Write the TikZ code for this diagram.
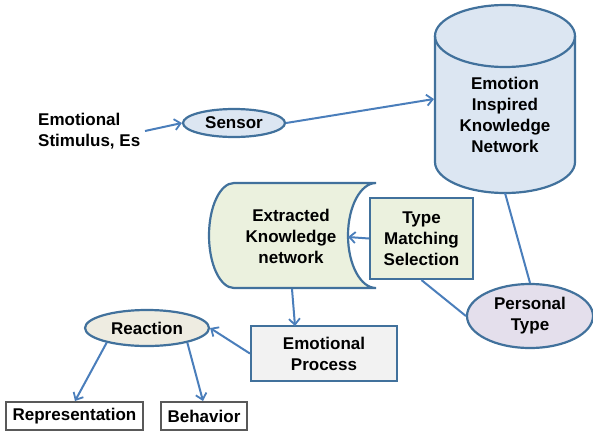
\documentclass[tikz,border=0pt]{standalone}
\usepackage{fontspec}
\setmainfont{Liberation Sans}
\usetikzlibrary{shapes.geometric,arrows.meta}
\definecolor{bdr}{HTML}{41719C}
\definecolor{blfill}{HTML}{DCE6F2}
\definecolor{grfill}{HTML}{EBF1DE}
\definecolor{lvfill}{HTML}{E4DFEC}
\definecolor{gyfill}{HTML}{F2F2F2}
\definecolor{bgfill}{HTML}{EEECE1}
\definecolor{arr}{HTML}{4A7EBB}
\definecolor{gbdr}{HTML}{595959}
\tikzset{
  txt/.style={font=\fontsize{17}{21}\selectfont\bfseries, align=center, inner sep=0pt, text=black},
  shp/.style={draw=bdr, line width=2.2pt},
  ell/.style={txt, shp, ellipse, inner sep=0pt},
  box/.style={txt, shp, rectangle, inner sep=0pt},
  wbox/.style={txt, draw=gbdr, line width=1.3pt, fill=white, rectangle, inner sep=0pt},
  conn/.style={draw=arr, line width=2pt},
  arw/.style={conn, -{Straight Barb[length=6pt,width=11pt,line width=1.8pt]}}
}
\begin{document}
\begin{tikzpicture}[x=1pt,y=1pt,yscale=-1]
\useasboundingbox (0,0) rectangle (593,434);
% cylinder
\fill[blfill] (435,36) -- (435,162) arc[start angle=180,end angle=0,x radius=70,y radius=31] -- (575,36) arc[start angle=0,end angle=-180,x radius=70,y radius=31] -- cycle;
\draw[shp] (435,36) -- (435,162) arc[start angle=180,end angle=0,x radius=70,y radius=31] -- (575,36);
\draw[shp] (505,36) ellipse[x radius=70,y radius=31];
\node[txt] (ekn) at (505,115) {Emotion\\Inspired\\Knowledge\\Network};
\coordinate (cylL) at (434,99);
\coordinate (cylB) at (505,193);
% extracted knowledge shape
\draw[shp, fill=grfill] (376,183) -- (234,183) arc[start angle=-90,end angle=-270,x radius=25,y radius=52.5] -- (376,288) arc[start angle=90,end angle=270,x radius=28,y radius=52.5] -- cycle;
\node[txt] (xkn) at (291,236) {Extracted\\Knowledge\\network};
\coordinate (xknR) at (348,237);
\coordinate (xknB) at (292,289);
% nodes
\node[txt, align=left, anchor=west] (es) at (38,131) {Emotional\\Stimulus, Es};
\node[ell, fill=blfill, minimum width=102pt, minimum height=28pt] (sensor) at (234,123) {Sensor};
\node[box, fill=grfill, minimum width=103pt, minimum height=81pt] (tms) at (421.5,238.5) {Type\\Matching\\Selection};
\node[ell, fill=lvfill, minimum width=126pt, minimum height=64pt] (pt) at (530,316) {Personal\\Type};
\node[box, fill=gyfill, minimum width=146pt, minimum height=55pt] (ep) at (324,353.5) {Emotional\\Process};
\node[ell, fill=bgfill, minimum width=124pt, minimum height=36pt] (react) at (147,328) {Reaction};
\node[wbox, minimum width=137pt, minimum height=28pt] (rep) at (74.5,416) {Representation};
\node[wbox, minimum width=86pt, minimum height=28pt] (beh) at (204,416) {Behavior};
% connectors
\coordinate (esE) at (145,131);
\coordinate (epT) at (295,326);
\coordinate (repT) at (75,401);
\coordinate (behT) at (203,401);
\draw[arw] (esE) -- (sensor.west);
\draw[arw] (sensor.east) -- (cylL);
\draw[arw] (tms.west) -- (xknR);
\draw[conn] (cylB) -- (pt.north);
\draw[conn] (tms.south) -- (pt.west);
\draw[arw] (xknB) -- (epT);
\draw[arw] (ep.west) -- (react.east);
\draw[arw] (react.-160) -- (repT);
\draw[arw] (react.-20) -- (behT);
\end{tikzpicture}
\end{document}
